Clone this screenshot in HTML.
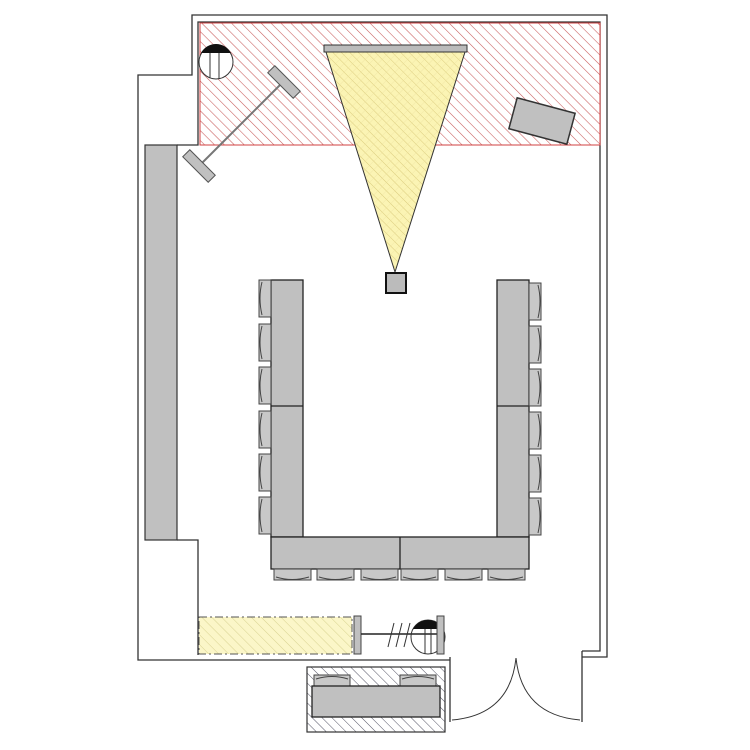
<!DOCTYPE html>
<html><head><meta charset="utf-8"><style>html,body{margin:0;padding:0;background:#fff}svg{display:block}</style></head>
<body>
<svg width="750" height="750" viewBox="0 0 750 750" xmlns="http://www.w3.org/2000/svg">
<defs>
<pattern id="red" width="7" height="7" patternUnits="userSpaceOnUse" patternTransform="rotate(-45)">
<rect width="7" height="7" fill="#fff"/><line x1="0" y1="0" x2="0" y2="7" stroke="#c85a5a" stroke-width="1.1"/></pattern>
<pattern id="yel" width="7" height="7" patternUnits="userSpaceOnUse" patternTransform="rotate(-45)">
<rect width="7" height="7" fill="#fbf6c8"/><line x1="0" y1="0" x2="0" y2="7" stroke="#d8d290" stroke-width="1"/></pattern>
<pattern id="blu" width="7" height="7" patternUnits="userSpaceOnUse" patternTransform="rotate(-45)">
<rect width="7" height="7" fill="#fff"/><line x1="0" y1="0" x2="0" y2="7" stroke="#556" stroke-width="1"/></pattern>
<pattern id="tri" width="6" height="6" patternUnits="userSpaceOnUse" patternTransform="rotate(-45)">
<rect width="6" height="6" fill="#fbf4b4"/><line x1="0" y1="0" x2="0" y2="6" stroke="#d8c878" stroke-width="0.9"/><line x1="0" y1="0" x2="6" y2="0" stroke="#ece0a0" stroke-width="0.6"/></pattern>
<g id="chL"><rect x="0" y="0" width="12" height="37" fill="#c8c8c8" stroke="#444" stroke-width="1"/><path d="M3,2 Q-1,18 3,35" fill="none" stroke="#444"/></g>
<g id="chR"><rect x="0" y="0" width="12" height="37" fill="#c8c8c8" stroke="#444" stroke-width="1"/><path d="M9,2 Q13,18 9,35" fill="none" stroke="#444"/></g>
<g id="chB"><rect x="0" y="0" width="37" height="11" fill="#c8c8c8" stroke="#444" stroke-width="1"/><path d="M2,8 Q18,13 35,8" fill="none" stroke="#444"/></g>
<g id="chT"><rect x="0" y="0" width="36" height="12" fill="#c8c8c8" stroke="#444" stroke-width="1"/><path d="M2,4 Q18,-1 34,4" fill="none" stroke="#444"/></g>
</defs>

<g fill="none" stroke="#333" stroke-width="1.3">
<path d="M450,660 L138,660 L138,75 L192,75 L192,15 L607,15 L607,657 L582,657"/>
<path d="M198,655 L198,540 L177,540 M177,145 L198,145 L198,22 L600,22 L600,651 L582,651"/>
<line x1="450" y1="657" x2="450" y2="722"/>
<line x1="582" y1="651" x2="582" y2="722"/>
</g>
<path d="M452,720 Q510,715 516,658" fill="none" stroke="#333" stroke-width="1"/>
<path d="M580,720 Q522,715 516,658" fill="none" stroke="#333" stroke-width="1"/>

<rect x="200" y="23" width="400" height="122" fill="url(#red)" stroke="#d04040" stroke-width="1"/>

<rect x="145" y="145" width="32" height="395" fill="#c0c0c0" stroke="#333" stroke-width="1.2"/>

<polygon points="326,52 465,52 395,272" fill="url(#tri)" stroke="#333" stroke-width="1"/>
<rect x="324" y="45" width="143" height="7" fill="#bbb" stroke="#333" stroke-width="1"/>
<rect x="386" y="273" width="20" height="20" fill="#bbb" stroke="#111" stroke-width="2"/>

<circle cx="216" cy="62" r="17" fill="#fff" stroke="#333"/>
<path d="M201,53 A17,17 0 0 1 231,53 Z" fill="#111"/>
<line x1="210" y1="53" x2="210" y2="78" stroke="#333"/><line x1="219" y1="53" x2="219" y2="79" stroke="#333"/>

<line x1="283" y1="82" x2="199" y2="166" stroke="#777" stroke-width="2"/>
<rect x="266" y="77" width="36" height="10" fill="#c0c0c0" stroke="#555" transform="rotate(45 284 82)"/>
<rect x="181" y="161" width="36" height="10" fill="#c0c0c0" stroke="#555" transform="rotate(45 199 166)"/>

<rect x="512" y="105" width="60" height="32" fill="#c0c0c0" stroke="#333" stroke-width="1.5" transform="rotate(15 542 121)"/>

<g fill="#c0c0c0" stroke="#222" stroke-width="1.3">
<rect x="271" y="280" width="32" height="257"/>
<line x1="271" y1="406" x2="303" y2="406"/>
<rect x="497" y="280" width="32" height="257"/>
<line x1="497" y1="406" x2="529" y2="406"/>
<rect x="271" y="537" width="258" height="32"/>
<line x1="400" y1="537" x2="400" y2="569"/>
</g>
<g>
<use href="#chL" x="259" y="280"/><use href="#chL" x="259" y="324"/><use href="#chL" x="259" y="367"/>
<use href="#chL" x="259" y="411"/><use href="#chL" x="259" y="454"/><use href="#chL" x="259" y="497"/>
<use href="#chR" x="529" y="283"/><use href="#chR" x="529" y="326"/><use href="#chR" x="529" y="369"/>
<use href="#chR" x="529" y="412"/><use href="#chR" x="529" y="455"/><use href="#chR" x="529" y="498"/>
<use href="#chB" x="274" y="569"/><use href="#chB" x="317" y="569"/><use href="#chB" x="361" y="569"/>
<use href="#chB" x="401" y="569"/><use href="#chB" x="445" y="569"/><use href="#chB" x="488" y="569"/>
</g>

<rect x="199" y="617" width="153" height="37" fill="url(#yel)" stroke="#555" stroke-width="1" stroke-dasharray="8,3,2,3"/>
<rect x="354" y="616" width="7" height="38" fill="#c0c0c0" stroke="#444"/>
<line x1="361" y1="634" x2="437" y2="634" stroke="#222" stroke-width="1.5"/>
<g stroke="#333" stroke-width="1"><line x1="388" y1="647" x2="394" y2="623"/><line x1="396" y1="647" x2="402" y2="623"/><line x1="404" y1="647" x2="410" y2="623"/></g>
<circle cx="428" cy="637" r="17" fill="none" stroke="#333"/>
<path d="M413,629 A17,17 0 0 1 443,629 Z" fill="#111"/>
<line x1="425" y1="629" x2="425" y2="654" stroke="#333"/><line x1="431" y1="629" x2="431" y2="654" stroke="#333"/>
<rect x="437" y="616" width="7" height="38" fill="#c0c0c0" stroke="#444"/>

<rect x="307" y="667" width="138" height="65" fill="url(#blu)" stroke="#333" stroke-width="1.2"/>
<use href="#chT" x="314" y="675"/><use href="#chT" x="400" y="675"/>
<rect x="312" y="686" width="128" height="31" fill="#c0c0c0" stroke="#222" stroke-width="1.3"/>
</svg>
</body></html>
